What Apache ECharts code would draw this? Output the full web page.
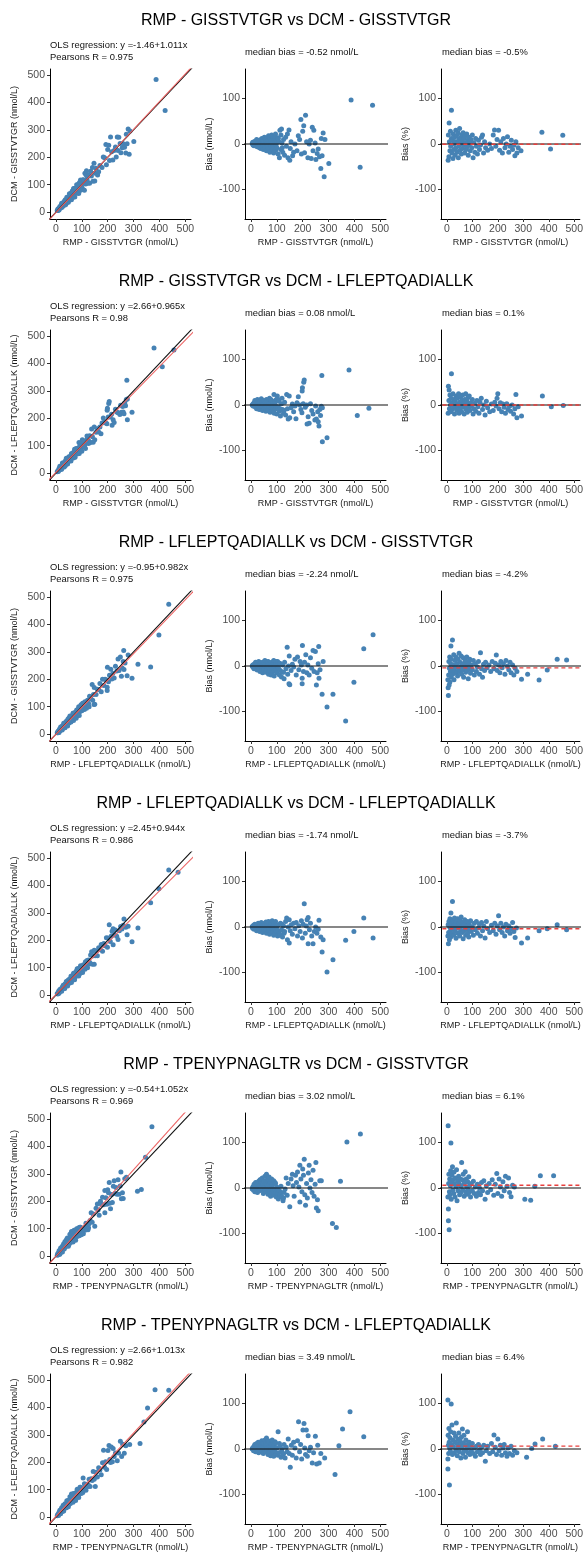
<!DOCTYPE html>
<html>
<head>
<meta charset="utf-8">
<title>RMP vs DCM method comparison</title>
<script src="https://cdn.jsdelivr.net/npm/echarts@6/dist/echarts.min.js"></script>
<style>
  html, body { margin: 0; padding: 0; background: #fff; }
  #main { width: 586px; height: 1553px; }
</style>
</head>
<body>
<div id="main"></div>
<script>
// one row of panels per peptide pairing
const rmpNames = ['GISSTVTGR', 'GISSTVTGR', 'LFLEPTQADIALLK', 'LFLEPTQADIALLK', 'TPENYPNAGLTR', 'TPENYPNAGLTR']
const dcmNames = ['GISSTVTGR', 'LFLEPTQADIALLK', 'GISSTVTGR', 'LFLEPTQADIALLK', 'GISSTVTGR', 'LFLEPTQADIALLK']
const olsIntercept = [-1.46, 2.66, -0.95, 2.45, -0.54, 2.66]
const olsSlope = [1.011, 0.965, 0.982, 0.944, 1.052, 1.013]
const pearsonR = [0.975, 0.98, 0.975, 0.986, 0.969, 0.982]
const medianBias = [-0.52, 0.08, -2.24, -1.74, 3.02, 3.49]     // nmol/L
const medianBiasPct = [-0.5, 0.1, -4.2, -3.7, 6.1, 6.4]        // %

const concTicks = [0, 100, 200, 300, 400, 500]
const biasTicks = [-100, 0, 100]

// [RMP (nmol/L), DCM - RMP (nmol/L)]
const bias1 = [[5,1],[7,4],[8,-2],[10,3],[12,-4],[14,0],[15,6],[16,-1],[18,-3],[20,2],[21,5],[22,10],[24,-6],[25,1],[27,-4],[28,4],[30,-2],[31,3],[32,8],[33,-8],[35,0],[36,9],[37,5],[38,-10],[40,2],[41,-7],[42,12],[43,-5],[45,-1],[46,1],[47,7],[48,-12],[50,3],[51,-4],[52,15],[53,-3],[55,-8],[56,11],[57,5],[58,10],[60,-15],[61,6],[62,0],[63,14],[65,-5],[66,-12],[67,8],[68,18],[70,-10],[71,15],[72,2],[73,-18],[75,12],[76,-1],[77,-4],[78,6],[80,20],[81,9],[82,-12],[83,1],[85,16],[86,-3],[87,-6],[88,-20],[90,10],[91,17],[92,3],[93,-14],[95,22],[96,-13],[97,-2],[98,8],[100,-8],[101,4],[103,14],[105,-22],[106,12],[108,5],[110,-30],[112,30],[115,-12],[116,20],[118,33],[120,2],[121,-8],[123,-18],[126,10],[130,-25],[134,15],[137,-5],[141,22],[143,-30],[147,31],[150,-36],[152,-10],[155,5],[161,-26],[165,-18],[170,0],[178,-15],[183,18],[188,10],[193,54],[195,-22],[200,28],[204,40],[207,-19],[211,63],[215,5],[220,-30],[225,0],[230,8],[233,-32],[237,37],[240,-15],[243,30],[248,2],[251,-34],[256,-21],[260,-11],[265,-28],[270,-54],[272,12],[275,-26],[279,24],[283,-72],[286,10],[301,-43],[387,97],[422,-51],[470,85]]
const bias2 = [[5,0],[7,-1],[8,2],[10,-3],[12,5],[14,-1],[15,10],[16,4],[18,-5],[20,3],[21,-4],[22,-8],[24,1],[25,12],[27,7],[28,-2],[30,6],[31,-2],[32,-10],[34,0],[35,8],[36,-9],[38,-6],[40,14],[41,5],[42,-3],[44,4],[45,-12],[46,-4],[48,2],[50,10],[51,3],[52,-8],[54,0],[56,6],[57,-6],[58,-14],[60,12],[61,8],[62,-4],[64,3],[66,-10],[67,-12],[68,8],[70,-2],[71,4],[72,15],[74,-16],[76,4],[77,12],[78,-7],[80,10],[81,-6],[82,-12],[84,0],[86,6],[87,-14],[89,23],[90,-18],[92,2],[93,8],[95,-9],[97,-3],[98,12],[100,-20],[102,20],[103,13],[105,-4],[108,8],[110,-14],[112,-8],[114,-24],[118,3],[120,15],[122,-10],[126,-18],[128,-12],[130,6],[134,-22],[138,23],[141,-8],[144,-31],[148,20],[150,-28],[155,-6],[160,2],[165,-15],[170,-2],[174,-30],[178,5],[183,18],[188,0],[193,-10],[197,-17],[198,31],[199,38],[202,3],[204,50],[206,55],[210,-5],[215,0],[217,-42],[221,-26],[225,-40],[230,3],[235,-12],[240,-20],[247,-33],[250,-2],[253,-31],[258,-15],[260,-37],[263,-46],[266,-10],[269,-23],[272,-3],[274,65],[276,-6],[276,-81],[294,-72],[379,77],[411,-23],[456,-7]]
const bias3 = [[5,0],[7,2],[8,-3],[10,2],[12,-6],[14,5],[15,-1],[16,-4],[18,8],[20,-4],[21,4],[22,1],[24,-9],[25,6],[27,-6],[28,-2],[30,10],[31,1],[32,-7],[34,3],[35,-12],[36,6],[38,0],[40,7],[41,-3],[42,-10],[44,4],[45,-15],[46,8],[48,-3],[50,9],[51,-10],[52,-6],[54,12],[56,-1],[57,4],[58,-14],[60,5],[61,-4],[62,-8],[64,2],[66,10],[67,9],[68,-18],[70,-4],[71,-12],[72,6],[74,-10],[76,1],[77,4],[78,-20],[80,8],[81,-15],[82,-6],[84,3],[86,-12],[87,6],[88,12],[90,-22],[92,0],[93,-10],[95,-8],[97,10],[98,5],[100,-15],[103,10],[104,-6],[106,-3],[110,-20],[112,6],[114,-10],[118,-24],[120,-14],[122,2],[126,-14],[128,-28],[130,8],[135,-6],[140,41],[142,-18],[145,0],[147,-39],[148,22],[150,-41],[155,-10],[160,4],[165,-2],[170,15],[175,-20],[180,20],[185,-8],[190,10],[195,2],[198,-27],[198,-39],[199,45],[203,-12],[207,8],[212,25],[216,-15],[220,2],[225,-20],[230,18],[235,-5],[240,34],[244,-12],[249,32],[253,-42],[256,-15],[260,5],[262,43],[263,-27],[267,-8],[275,-62],[279,10],[294,-90],[317,-62],[366,-121],[398,-36],[436,38],[472,69]]
const bias4 = [[5,1],[7,-3],[8,-2],[10,4],[12,-5],[14,0],[15,6],[16,3],[18,-3],[20,2],[21,-5],[22,-8],[24,5],[25,-1],[27,2],[28,8],[30,-4],[31,-7],[32,1],[34,-10],[35,6],[36,4],[38,-2],[40,10],[41,-4],[42,-6],[44,3],[45,-12],[46,7],[48,0],[50,7],[51,-2],[52,-9],[54,4],[56,-3],[57,-8],[58,11],[60,-14],[61,9],[62,1],[64,6],[66,-7],[67,2],[68,12],[70,-2],[71,-10],[72,-16],[74,4],[76,-8],[77,6],[78,9],[80,-4],[81,-2],[82,14],[84,-12],[86,2],[87,10],[88,-18],[90,6],[92,-6],[93,-14],[95,12],[97,4],[98,-10],[100,0],[103,-20],[104,-8],[106,5],[110,-14],[112,-18],[114,8],[118,-6],[120,6],[122,-22],[126,2],[128,-14],[130,-10],[134,12],[138,20],[141,-28],[144,0],[148,16],[148,-35],[152,-8],[156,5],[160,-16],[165,8],[170,-4],[175,10],[180,-20],[185,3],[190,-10],[195,14],[199,-24],[202,6],[206,51],[210,-14],[214,2],[217,16],[221,21],[221,-37],[226,-6],[230,8],[235,-20],[240,-37],[245,-10],[250,0],[255,-14],[260,-5],[263,15],[270,-22],[275,-55],[279,-28],[294,-99],[317,-72],[366,-29],[398,-10],[436,20],[472,-24]]
const bias5 = [[5,-2],[7,1],[8,3],[10,-5],[12,8],[14,0],[15,-8],[16,6],[18,12],[20,4],[21,-6],[22,-3],[24,10],[25,-10],[27,12],[28,2],[30,15],[31,4],[32,-6],[34,6],[35,18],[36,-4],[38,0],[40,12],[41,20],[42,-4],[44,22],[45,6],[46,10],[48,-12],[50,14],[51,-8],[52,2],[54,26],[56,-6],[57,16],[58,10],[60,30],[61,8],[62,-2],[64,18],[66,-14],[67,20],[68,6],[70,24],[71,-6],[72,-8],[74,12],[76,-18],[77,14],[78,2],[80,20],[81,4],[82,-10],[84,8],[86,-4],[87,-8],[88,16],[90,-16],[92,-2],[93,12],[95,10],[97,-10],[98,-20],[100,2],[103,-12],[104,-4],[106,-24],[110,-6],[112,-18],[113,-15],[116,4],[118,-10],[120,-20],[124,-28],[126,-22],[128,-10],[132,-2],[136,22],[140,-16],[144,10],[150,-41],[155,20],[160,30],[163,5],[167,-18],[172,28],[176,12],[180,35],[185,2],[189,50],[189,-31],[193,20],[197,-8],[200,42],[203,28],[206,63],[208,-15],[211,-38],[215,10],[218,-22],[222,33],[225,50],[228,0],[232,18],[236,-10],[240,39],[244,-18],[248,8],[251,56],[253,-44],[257,-26],[260,-50],[266,16],[272,16],[315,-78],[330,-87],[346,15],[371,101],[423,119]]
const bias6 = [[5,0],[7,2],[8,3],[10,-4],[12,6],[14,-1],[15,10],[16,-2],[18,-6],[20,2],[21,8],[22,12],[24,-3],[25,5],[27,-5],[28,15],[30,-8],[31,10],[32,4],[34,0],[35,14],[36,3],[38,-5],[40,8],[41,-6],[42,18],[44,-2],[45,6],[46,14],[48,-10],[50,12],[51,-4],[52,2],[54,20],[56,-6],[57,12],[58,8],[60,24],[61,6],[62,-3],[64,10],[66,-12],[67,18],[68,4],[70,16],[71,-6],[72,-8],[74,6],[76,-15],[77,4],[78,12],[80,0],[81,10],[82,20],[84,-10],[86,4],[87,-8],[88,-16],[90,8],[92,-4],[93,16],[95,14],[97,2],[98,-12],[100,2],[104,-14],[105,38],[108,-8],[110,12],[112,6],[116,-18],[118,-6],[120,0],[124,-12],[126,-10],[128,10],[132,-20],[136,4],[140,-6],[144,22],[148,-10],[152,-40],[156,8],[160,-14],[165,15],[170,2],[175,-20],[180,18],[184,60],[188,-6],[192,10],[196,-22],[201,42],[205,56],[208,2],[211,-12],[214,42],[218,-16],[221,29],[225,-4],[230,4],[237,-31],[242,-8],[249,28],[254,-33],[258,8],[264,-31],[270,-10],[285,-20],[325,-56],[340,7],[354,44],[383,82],[436,27]]

// [RMP (nmol/L), bias (%)]
const pct1 = [[5,-36],[6,20],[8,-28],[9,46],[10,5],[12,-15],[14,28],[15,-5],[18,74],[18,12],[20,-20],[22,8],[24,-32],[25,22],[27,0],[28,-12],[30,15],[32,-25],[33,5],[35,30],[36,-8],[38,18],[40,-18],[42,3],[44,25],[45,-30],[47,10],[48,-4],[50,34],[52,-14],[54,14],[55,0],[57,-22],[58,20],[60,6],[62,-10],[64,25],[66,-2],[68,12],[70,-20],[72,18],[74,2],[76,-12],[78,22],[80,-6],[82,8],[84,-25],[86,15],[88,-2],[90,5],[92,-15],[95,10],[98,-8],[100,20],[103,-30],[106,3],[110,-18],[113,12],[116,-5],[120,-22],[124,8],[128,-12],[132,-2],[136,15],[140,20],[144,-20],[148,5],[152,-8],[160,-14],[168,0],[175,-10],[182,20],[187,31],[192,-5],[197,10],[203,30],[207,-14],[212,5],[218,-20],[222,12],[228,-8],[233,0],[238,16],[243,-18],[248,-5],[253,8],[258,-12],[263,-3],[267,-26],[271,5],[275,-20],[280,-8],[291,-15],[373,26],[407,-11],[455,19]]
const pct2 = [[5,-18],[6,41],[8,10],[9,33],[10,-8],[12,22],[14,0],[15,-15],[17,15],[18,69],[20,5],[22,-10],[24,25],[26,-3],[28,12],[30,-20],[32,8],[34,-5],[36,20],[38,2],[40,-12],[42,15],[44,-2],[46,25],[48,-18],[50,6],[52,-8],[54,18],[56,0],[58,-15],[60,10],[62,22],[64,-5],[66,4],[68,-20],[70,12],[72,-2],[74,25],[76,-10],[78,8],[80,-16],[82,16],[84,2],[86,-6],[88,20],[90,-12],[93,5],[96,-3],[100,12],[103,-20],[106,-8],[110,4],[114,-14],[118,10],[122,-4],[126,-18],[130,6],[135,15],[140,-10],[145,0],[150,-22],[155,8],[160,-6],[168,-15],[175,2],[182,-12],[188,6],[193,-2],[197,15],[200,25],[205,-8],[210,5],[215,-15],[220,2],[225,-5],[230,-18],[235,3],[240,-10],[246,-3],[250,-14],[256,0],[262,-20],[267,-8],[271,23],[275,-28],[280,-4],[293,-24],[375,20],[410,-4],[457,-1]]
const pct3 = [[4,-30],[5,-48],[6,-65],[7,-20],[8,10],[9,-42],[10,-5],[11,20],[12,-35],[14,-12],[15,5],[16,44],[17,-25],[18,15],[20,-8],[22,57],[23,-18],[25,2],[27,25],[28,-30],[30,-10],[32,12],[34,-3],[36,20],[38,-15],[40,5],[42,-22],[44,15],[46,-6],[48,28],[50,-12],[52,8],[54,-2],[56,22],[58,-18],[60,3],[62,-8],[64,18],[66,-25],[68,6],[70,-4],[72,12],[74,-14],[76,0],[78,20],[80,-10],[82,4],[84,-28],[86,10],[88,-6],[90,15],[93,-16],[96,2],[100,-8],[104,12],[108,-20],[112,5],[116,-12],[120,-2],[124,10],[128,-18],[132,29],[136,-6],[140,-25],[144,4],[148,-10],[152,8],[158,-4],[165,2],[172,-12],[178,10],[185,-6],[190,6],[194,24],[198,-10],[203,2],[208,-15],[212,10],[217,-4],[222,5],[228,-18],[232,12],[238,0],[243,-8],[248,8],[252,-15],[258,2],[263,-20],[268,-5],[275,-12],[293,-29],[317,-18],[362,-31],[394,-9],[433,15],[470,13]]
const pct4 = [[4,-20],[5,5],[6,-37],[7,-12],[8,12],[10,-28],[11,0],[12,18],[14,-8],[15,-22],[16,31],[17,4],[18,-15],[20,10],[22,56],[23,-5],[25,15],[27,-18],[28,2],[30,20],[32,-10],[34,6],[36,-25],[38,12],[40,-3],[42,18],[44,-14],[46,0],[48,8],[50,-20],[52,14],[54,-6],[56,22],[58,2],[60,-12],[62,10],[64,-26],[66,4],[68,-8],[70,16],[72,-2],[74,-18],[76,8],[78,-5],[80,12],[82,-14],[84,2],[86,-22],[88,6],[90,-4],[93,14],[96,-10],[100,0],[104,-18],[108,8],[112,-6],[116,12],[120,-14],[124,-2],[128,6],[132,-20],[136,10],[140,-8],[145,2],[150,-24],[155,12],[160,-4],[168,-12],[175,4],[182,-8],[188,8],[193,-16],[198,2],[203,25],[207,-6],[212,8],[217,-12],[222,0],[227,-20],[232,6],[238,-8],[243,2],[248,-14],[253,-4],[258,10],[263,-10],[268,-23],[273,-2],[293,-35],[317,-24],[362,-8],[394,-4],[433,5],[470,-6]]
const pct5 = [[4,-20],[5,137],[6,-46],[6,-72],[7,10],[8,30],[9,-92],[10,-8],[11,20],[12,-15],[14,5],[15,38],[16,99],[17,-25],[18,12],[20,28],[22,47],[23,-5],[25,18],[27,-12],[28,35],[30,8],[32,-20],[34,22],[36,2],[38,40],[40,-28],[42,15],[44,-6],[46,26],[48,10],[50,-15],[52,20],[54,4],[56,-10],[58,56],[60,18],[62,-4],[64,30],[66,8],[68,-18],[70,12],[72,36],[74,-8],[76,20],[78,2],[80,-14],[82,14],[84,-4],[86,25],[88,-10],[90,6],[93,-20],[96,10],[100,-6],[104,15],[108,-12],[112,2],[116,-18],[120,8],[124,-10],[128,0],[132,-15],[136,12],[140,-6],[145,16],[150,-25],[155,5],[160,-10],[166,10],[172,-4],[178,18],[184,-16],[190,8],[196,32],[200,-12],[205,20],[210,2],[215,-18],[220,14],[225,-6],[230,26],[236,4],[242,22],[246,-10],[252,-19],[258,6],[265,2],[306,-25],[329,-27],[345,4],[367,27],[419,27]]
const pct6 = [[4,108],[4,-22],[4,-44],[5,30],[6,8],[7,-10],[8,45],[9,15],[10,-79],[11,2],[12,25],[14,-5],[15,38],[17,99],[18,10],[20,53],[22,-12],[24,20],[26,5],[28,35],[30,-8],[32,15],[34,28],[36,-2],[37,57],[39,12],[41,-15],[43,22],[45,4],[47,35],[49,-6],[51,18],[53,8],[55,-20],[57,26],[59,2],[61,44],[63,-10],[65,14],[67,30],[69,-4],[71,8],[73,-18],[75,20],[77,0],[79,10],[81,38],[83,-8],[85,4],[88,15],[90,-12],[93,6],[96,-4],[100,12],[104,-10],[108,2],[112,-16],[116,6],[120,-6],[124,10],[128,-2],[132,-12],[136,4],[140,-8],[145,8],[151,-27],[155,-4],[160,6],[168,-10],[175,12],[180,-6],[185,31],[190,4],[195,-12],[200,22],[205,-4],[210,8],[215,-14],[220,2],[225,10],[230,-8],[236,-16],[240,2],[246,-10],[252,6],[258,-14],[265,-4],[275,-8],[313,-18],[333,1],[346,11],[376,22],[426,6]]

const biasRows = [bias1, bias2, bias3, bias4, bias5, bias6]
const pctRows = [pct1, pct2, pct3, pct4, pct5, pct6]

const FONT = "'Liberation Sans', Arial, sans-serif"
const POINT = '#4682b4'

const grids = []
const xAxes = []
const yAxes = []
const series = []
const texts = []

function makeAxis (idx, min, max, ticks, name, isY) {
  return {
    type: 'value',
    gridIndex: idx,
    min: min,
    max: max,
    name: name,
    nameLocation: 'middle',
    nameGap: isY ? 31 : 19,
    nameTextStyle: { fontSize: 9, color: '#1a1a1a', fontFamily: FONT },
    axisLine: { show: true, onZero: false, lineStyle: { color: '#000', width: 1 } },
    axisTick: { show: true, length: 3, customValues: ticks, lineStyle: { color: '#333' } },
    axisLabel: { customValues: ticks, fontSize: 10.5, color: '#4d4d4d', margin: 5, fontFamily: FONT },
    splitLine: { show: false }
  }
}

function lineSeries (idx, pts, color, dashed) {
  return {
    type: 'line',
    xAxisIndex: idx,
    yAxisIndex: idx,
    data: pts,
    symbol: 'none',
    silent: true,
    z: 3,
    lineStyle: { color: color, width: dashed ? 1.4 : 1.1, type: dashed ? [4, 3] : 'solid' }
  }
}

for (let r = 0; r < 6; r++) {
  const base = 219 + 261 * r       // bottom axis line of this row
  const top = base - 150
  const xName = 'RMP - ' + rmpNames[r] + ' (nmol/L)'
  const a = olsIntercept[r]
  const b = olsSlope[r]
  const scatterPts = biasRows[r].map(p => [p[0], p[0] + p[1]])

  const panels = [
    { left: 50, yMin: -25, yMax: 522, ticks: concTicks, yName: 'DCM - ' + dcmNames[r] + ' (nmol/L)', data: scatterPts },
    { left: 245, yMin: -165, yMax: 165, ticks: biasTicks, yName: 'Bias (nmol/L)', data: biasRows[r] },
    { left: 441, yMin: -165, yMax: 165, ticks: biasTicks, yName: 'Bias (%)', data: pctRows[r] }
  ]

  panels.forEach((p, k) => {
    const idx = r * 3 + k
    grids.push({ left: p.left, top: top, width: 141, height: 150 })
    xAxes.push(makeAxis(idx, -23, 522, concTicks, xName, false))
    yAxes.push(makeAxis(idx, p.yMin, p.yMax, p.ticks, p.yName, true))
    series.push({
      type: 'scatter',
      xAxisIndex: idx,
      yAxisIndex: idx,
      data: p.data,
      symbolSize: 5,
      silent: true,
      z: 2,
      itemStyle: { color: POINT, opacity: 1 }
    })
  })

  // identity line and OLS fit
  series.push(lineSeries(r * 3, [[-100, -100], [700, 700]], '#111'))
  series.push(lineSeries(r * 3, [[-100, a + b * -100], [700, a + b * 700]], '#ec6464'))
  // zero lines, and the median bias line on the % panel
  series.push(lineSeries(r * 3 + 1, [[-100, 0], [700, 0]], '#111'))
  series.push(lineSeries(r * 3 + 2, [[-100, 0], [700, 0]], '#111'))
  series.push(lineSeries(r * 3 + 2, [[-100, medianBiasPct[r]], [700, medianBiasPct[r]]], '#e8403e', true))

  texts.push({
    type: 'text', x: 296, y: base - 198,
    style: { text: 'RMP - ' + rmpNames[r] + ' vs DCM - ' + dcmNames[r], fontSize: 16, fontFamily: FONT, fill: '#000', textAlign: 'center', textVerticalAlign: 'middle' }
  })
  texts.push({
    type: 'text', x: 50, y: base - 174,
    style: { text: 'OLS regression: y =' + a + '+' + b + 'x', fontSize: 9.4, fontFamily: FONT, fill: '#111', textVerticalAlign: 'middle' }
  })
  texts.push({
    type: 'text', x: 50, y: base - 162,
    style: { text: 'Pearsons R = ' + pearsonR[r], fontSize: 9.4, fontFamily: FONT, fill: '#111', textVerticalAlign: 'middle' }
  })
  texts.push({
    type: 'text', x: 245, y: base - 167,
    style: { text: 'median bias = ' + medianBias[r] + ' nmol/L', fontSize: 9.4, fontFamily: FONT, fill: '#111', textVerticalAlign: 'middle' }
  })
  texts.push({
    type: 'text', x: 442, y: base - 167,
    style: { text: 'median bias = ' + medianBiasPct[r] + '%', fontSize: 9.4, fontFamily: FONT, fill: '#111', textVerticalAlign: 'middle' }
  })
}

const chart = echarts.init(document.getElementById('main'))
chart.setOption({
  animation: false,
  backgroundColor: '#fff',
  grid: grids,
  xAxis: xAxes,
  yAxis: yAxes,
  series: series,
  graphic: texts
})
</script>
</body>
</html>
